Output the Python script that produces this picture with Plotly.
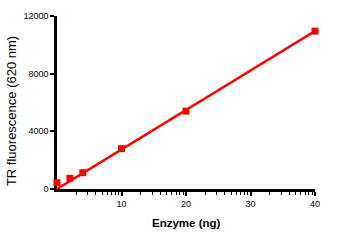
import numpy as np
import plotly.graph_objects as go

# Data
enzyme_ng = [0, 2, 4, 10, 20, 40]
tr_fluorescence = [440, 740, 1130, 2800, 5400, 10950]
fit_x = [0, 40]
fit_y = [0, 10950]

x_major_ticks = [10, 20, 30, 40]
y_ticks = [0, 4000, 8000, 12000]

# Prism-style minor ticks inside each 10-unit interval
minor_ticks = []
for base in [0, 10, 20, 30]:
    for k in range(2, 10):
        minor_ticks.append(base + 10 * np.log10(k))

fig = go.Figure()
fig.add_trace(go.Scatter(x=fit_x, y=fit_y, mode="lines",
                         line=dict(color="#ff0000", width=2.5),
                         cliponaxis=False, showlegend=False))
fig.add_trace(go.Scatter(x=enzyme_ng, y=tr_fluorescence, mode="markers",
                         marker=dict(symbol="square", size=7, color="#ff0000"),
                         cliponaxis=False, showlegend=False))

font_family = "Liberation Sans, Arial, sans-serif"

fig.update_layout(
    width=339, height=245,
    margin=dict(l=57, r=24, t=16, b=56),
    plot_bgcolor="white", paper_bgcolor="white",
    font=dict(family=font_family, color="black", size=9),
    xaxis=dict(range=[0, 40], showgrid=False, zeroline=False,
               showline=True, linecolor="black", linewidth=2.5,
               layer="below traces",
               ticks="outside", ticklen=4, tickwidth=1.5, tickcolor="black",
               tickmode="array", tickvals=x_major_ticks,
               ticktext=[str(v) for v in x_major_ticks],
               tickfont=dict(size=9, color="black"),
               minor=dict(tickmode="array", tickvals=minor_ticks,
                          ticks="outside", ticklen=3, tickwidth=1.2,
                          tickcolor="black", showgrid=False)),
    yaxis=dict(range=[0, 12000], showgrid=False, zeroline=False,
               showline=True, linecolor="black", linewidth=2.5,
               layer="below traces",
               ticks="outside", ticklen=4, tickwidth=1.5, tickcolor="black",
               tickmode="array", tickvals=y_ticks,
               ticktext=[str(v) for v in y_ticks],
               tickfont=dict(size=9, color="black")),
    annotations=[
        dict(text="TR fluorescence (620 nm)", xref="paper", yref="paper",
             x=-0.174, y=0.451, xanchor="center", yanchor="middle",
             textangle=-90, showarrow=False,
             font=dict(size=13, family=font_family, color="black")),
        dict(text="<b>Enzyme (ng)</b>", xref="paper", yref="paper",
             x=0.5, y=-0.197, xanchor="center", yanchor="middle",
             showarrow=False,
             font=dict(size=11.5, family=font_family, color="black")),
    ],
)

fig.write_html("out.html")
